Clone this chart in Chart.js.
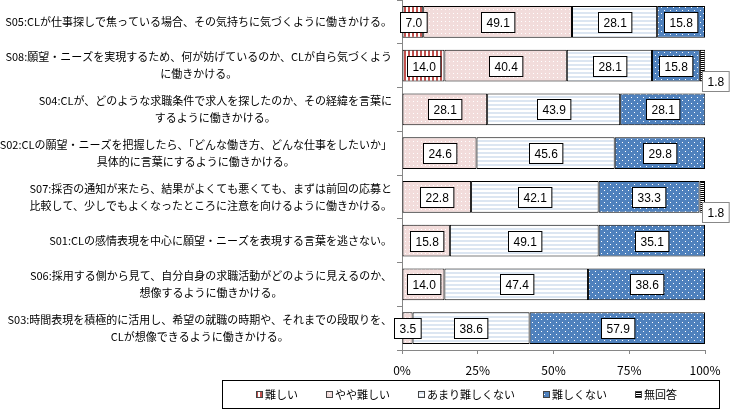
<!DOCTYPE html>
<html>
<head>
<meta charset="utf-8">
<script src="https://cdn.jsdelivr.net/npm/chart.js@4"></script>
<style>
  body { margin: 0; background: #fff; }
  .chart_box { position: relative; width: 730px; height: 412px; }
</style>
</head>
<body>
<div class="chart_box"><canvas id="chart_items"></canvas></div>
<script>
let categories = [
  ['S05:CLが仕事探しで焦っている場合、その気持ちに気づくように働きかける。'],
  ['S08:願望・ニーズを実現するため、何が妨げているのか、CLが自ら気づくよう', 'に働きかける。'],
  ['S04:CLが、どのような求職条件で求人を探したのか、その経緯を言葉に', 'するように働きかける。'],
  ['S02:CLの願望・ニーズを把握したら、「どんな働き方、どんな仕事をしたいか」', '具体的に言葉にするように働きかける。'],
  ['S07:採否の通知が来たら、結果がよくても悪くても、まずは前回の応募と', '比較して、少しでもよくなったところに注意を向けるように働きかける。'],
  ['S01:CLの感情表現を中心に願望・ニーズを表現する言葉を逃さない。'],
  ['S06:採用する側から見て、自分自身の求職活動がどのように見えるのか、', '想像するように働きかける。'],
  ['S03:時間表現を積極的に活用し、希望の就職の時期や、それまでの段取りを、', 'CLが想像できるように働きかける。']
]
let seriesNames = ['難しい', 'やや難しい', 'あまり難しくない', '難しくない', '無回答']
let hardValues = [7.0, 14.0, 0, 0, 0, 0, 0, 0]
let ratherHardValues = [49.1, 40.4, 28.1, 24.6, 22.8, 15.8, 14.0, 3.5]
let notVeryHardValues = [28.1, 28.1, 43.9, 45.6, 42.1, 49.1, 47.4, 38.6]
let notHardValues = [15.8, 15.8, 28.1, 29.8, 33.3, 35.1, 38.6, 57.9]
let noAnswerValues = [0, 1.8, 0, 0, 1.8, 0, 0, 0]
let xTicks = [0, 25, 50, 75, 100]

const jpFont = '"Noto Sans CJK JP", sans-serif'

const makePattern = (w, h, bg, fg, cells) => {
  let c = document.createElement('canvas')
  c.width = w
  c.height = h
  let g = c.getContext('2d')
  g.fillStyle = bg
  g.fillRect(0, 0, w, h)
  g.fillStyle = fg
  cells.forEach(([x, y, cw, ch]) => g.fillRect(x, y, cw, ch))
  return g.createPattern(c, 'repeat')
}

let fills = [
  makePattern(4, 1, '#fff', '#C0504D', [[0, 0, 2, 1]]),
  makePattern(4, 4, '#F2DCDB', '#fff', [[1, 1, 1, 1]]),
  makePattern(1, 4, '#fff', '#DCE6F2', [[0, 0, 1, 2]]),
  makePattern(6, 6, '#4F81BD', '#fff', [[1, 1, 1, 1], [4, 4, 1, 1]]),
  makePattern(1, 2, '#fff', '#000', [[0, 0, 1, 1]])
]
let allValues = [hardValues, ratherHardValues, notVeryHardValues, notHardValues, noAnswerValues]

// labels, data boxes and legend drawn on top
const extraDraw = {
  id: 'extraDraw',
  afterDraw(chart) {
    let { ctx, scales: { x, y } } = chart
    ctx.save()

    // category labels: lines centered, block right aligned
    ctx.font = '11px ' + jpFont
    ctx.fillStyle = '#000'
    ctx.textAlign = 'center'
    ctx.textBaseline = 'middle'
    categories.forEach((lines, i) => {
      let maxW = Math.max(...lines.map(l => ctx.measureText(l).width))
      let cx = 392 - maxW / 2
      let cy = y.getPixelForValue(i)
      lines.forEach((l, k) => {
        ctx.fillText(l, cx, cy + (k - (lines.length - 1) / 2) * 17)
      })
    })

    // value boxes
    ctx.font = '12px "Liberation Sans", sans-serif'
    allValues.forEach((vals, d) => {
      let meta = chart.getDatasetMeta(d)
      vals.forEach((v, i) => {
        if (!v) return
        let bar = meta.data[i]
        let txt = v.toFixed(1)
        let w = ctx.measureText(txt).width + 10
        let h = 20
        let cx = (bar.x + bar.base) / 2
        let cy = bar.y
        let stroke = '#000'
        if (d === allValues.length - 1) {
          cx = x.right + 10
          cy = bar.y + 15
          stroke = '#888'
        }
        let bx = Math.round(cx - w / 2) + 0.5
        let by = Math.round(cy - h / 2) + 0.5
        ctx.fillStyle = '#fff'
        ctx.fillRect(bx, by, w, h)
        ctx.strokeStyle = stroke
        ctx.lineWidth = 1
        ctx.strokeRect(bx, by, w, h)
        ctx.fillStyle = '#000'
        ctx.fillText(txt, bx + w / 2, by + h / 2 + 1)
      })
    })

    // legend
    ctx.strokeStyle = '#000'
    ctx.strokeRect(222.5, 380.5, 497, 28)
    ctx.font = '11px ' + jpFont
    ctx.textAlign = 'left'
    let gap = 28
    let widths = seriesNames.map(n => 9 + ctx.measureText(n).width)
    let total = widths.reduce((a, b) => a + b, 0) + gap * (seriesNames.length - 1)
    let lx = Math.round(466 - total / 2)
    seriesNames.forEach((n, k) => {
      ctx.fillStyle = fills[k]
      ctx.fillRect(lx, 391, 7, 7)
      ctx.strokeStyle = '#444'
      ctx.strokeRect(lx + 0.5, 391.5, 6, 6)
      ctx.fillStyle = '#000'
      ctx.fillText(n, lx + 9, 395)
      lx += widths[k] + gap
    })
    ctx.restore()
  }
}

let chartItems = document.querySelector('#chart_items')

new Chart(chartItems, {
  type: 'bar',
  data: {
    labels: categories,
    datasets: allValues.map((vals, k) => ({
      label: seriesNames[k],
      data: vals.map(v => v || null),
      backgroundColor: fills[k],
      borderColor: '#000',
      borderWidth: 1,
      borderSkipped: false,
      barPercentage: 0.73,
      categoryPercentage: 1
    }))
  },
  options: {
    indexAxis: 'y',
    responsive: true,
    maintainAspectRatio: false,
    animation: false,
    devicePixelRatio: 1,
    layout: {
      padding: { top: 0, right: 25, bottom: 0, left: 0 }
    },
    plugins: {
      legend: { display: false },
      tooltip: { enabled: false }
    },
    scales: {
      x: {
        stacked: true,
        min: 0,
        max: 100,
        afterBuildTicks: s => { s.ticks = xTicks.map(v => ({ value: v })) },
        afterFit: s => { s.height = 62 },
        grid: {
          drawOnChartArea: false,
          tickLength: 4,
          color: '#868686'
        },
        border: { color: '#868686' },
        ticks: {
          padding: 9,
          color: '#000',
          font: { family: jpFont, size: 12 },
          callback: v => v + '%'
        }
      },
      y: {
        stacked: true,
        afterFit: s => { s.width = 402 },
        grid: {
          drawOnChartArea: false,
          tickLength: 5,
          color: '#868686'
        },
        border: { color: '#868686' },
        ticks: { display: false }
      }
    }
  },
  plugins: [extraDraw]
})
</script>
</body>
</html>
